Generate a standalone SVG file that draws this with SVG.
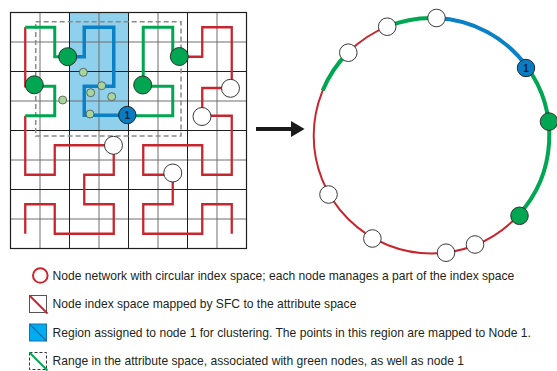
<svg xmlns="http://www.w3.org/2000/svg" width="557" height="371" viewBox="0 0 557 371">
<style>
.minor{stroke:#6e6e6e;stroke-width:1;fill:none}
.major{stroke:#1e1e1e;stroke-width:1;fill:none}
.red{stroke:#c8262f;stroke-width:2.3;fill:none;stroke-linejoin:miter}
.grn{stroke:#00a651;stroke-width:3;fill:none}
.blu{stroke:#0a80c6;stroke-width:3.5;fill:none}
.ringred{stroke:#c8262f;stroke-width:2;fill:none}
.ringgrn{stroke:#00a651;stroke-width:4;fill:none}
.ringblu{stroke:#0a80c6;stroke-width:4;fill:none}
.nw{fill:#ffffff;stroke:#222;stroke-width:0.9}
.ng{fill:#00a651;stroke:#222;stroke-width:0.9}
.nb{fill:#0a7cc1;stroke:#1a1a1a;stroke-width:0.9}
.pt{fill:#a6d69e;stroke:#4d4d4d;stroke-width:0.8}
.lbl{font-family:"Liberation Sans",Arial,sans-serif;font-size:12.1px;fill:#231f20}
.one{font-family:"Liberation Sans",Arial,sans-serif;font-size:10px;font-weight:bold;fill:#14243a;text-anchor:middle}
</style>
<defs>
<marker id="ah" markerWidth="4" markerHeight="4" refX="0" refY="2" orient="auto" markerUnits="strokeWidth">
<path d="M0,0 L3.4,2 L0,4 Z" fill="#1a1a1a"/>
</marker>
</defs>
<rect width="557" height="371" fill="#ffffff"/>

<g id="attribute-space">
<rect id="region-node1" x="69.5" y="12.5" width="59" height="118" fill="#8fd0ec"/>
<g id="grid">
<path class="minor" d="M40,12.5V248.5M99,12.5V248.5M158,12.5V248.5M217,12.5V248.5M10.5,42H246.5M10.5,101H246.5M10.5,160H246.5M10.5,219H246.5"/>
<path class="major" d="M69.5,12.5V248.5M128.5,12.5V248.5M187.5,12.5V248.5M10.5,71.5H246.5M10.5,130.5H246.5M10.5,189.5H246.5"/>
<rect x="10.5" y="12.5" width="236" height="236" fill="none" stroke="#1e1e1e" stroke-width="1.2"/>
</g>
<rect id="range" x="35.7" y="21.7" width="145.3" height="114.3" fill="none" stroke="#8a8a8a" stroke-width="1.5" stroke-dasharray="5,3"/>
</g>

<g id="connectors">
<path class="red" d="M25.25,233.75V204.25H54.75V233.75H113.75V204.25H84.25V174.75H113.75V145.25H54.75V174.75H25.25V115.75"/>
<path class="grn" d="M25.25,115.75H54.75V86.25H34"/>
<path class="red" d="M34,86.25H25.25V27.25"/>
<path class="grn" d="M25.25,27.25H54.75V56.75H67.7"/>
<path class="blu" d="M67.7,56.75H84.25V27.25H113.75V86.25H84.25V115.25H127.5"/>
<path class="grn" d="M127.5,115.75H172.75V86.25H143.25"/>
<path class="grn" d="M143.25,86.25V27.25H172.75V56.75H179.3"/>
<path class="red" d="M179.3,56.75H202.25V27.25H231.75V88H202.25V115.75H231.75V174.75H202.25V145.25H143.25V174.75H172.75V204.25H143.25V233.75H202.25V204.25H231.75V233.75"/>
<line x1="256" y1="129" x2="291" y2="129" stroke="#1a1a1a" stroke-width="4" marker-end="url(#ah)"/>
<circle class="ringred" cx="431.5" cy="135.7" r="117.8"/>
<path class="ringgrn" d="M322.7,90.4A117.8,117.8 0 0 1 348.1,52.5"/>
<path class="ringgrn" d="M387,26.6A117.8,117.8 0 0 1 436.2,18"/>
<path class="ringblu" d="M436.2,18A117.8,117.8 0 0 1 527.05,66.8"/>
<path class="ringgrn" d="M527.05,66.8A117.8,117.8 0 0 1 518.6,215"/>
</g>

<g id="points">
<circle class="pt" cx="83.3" cy="72.3" r="4"/>
<circle class="pt" cx="62.7" cy="100" r="4"/>
<circle class="pt" cx="101.7" cy="85.7" r="4"/>
<circle class="pt" cx="90.7" cy="92.7" r="4"/>
<circle class="pt" cx="111.7" cy="96.7" r="4"/>
<circle class="pt" cx="90" cy="114" r="4"/>
</g>

<g id="grid-node-g1"><circle class="ng" cx="34.3" cy="84.8" r="9"/></g>
<g id="grid-node-g2"><circle class="ng" cx="67.7" cy="56.7" r="9"/></g>
<g id="grid-node-g3"><circle class="ng" cx="142.7" cy="85" r="9"/></g>
<g id="grid-node-g4"><circle class="ng" cx="179.3" cy="56.5" r="9"/></g>
<g id="grid-node-1"><circle class="nb" cx="127.3" cy="115" r="8.7"/><text class="one" x="127.3" y="118.6">1</text></g>
<g id="grid-node-w1"><circle class="nw" cx="230.5" cy="88.3" r="9"/></g>
<g id="grid-node-w2"><circle class="nw" cx="202" cy="116.5" r="9"/></g>
<g id="grid-node-w3"><circle class="nw" cx="113.5" cy="145.3" r="9"/></g>
<g id="grid-node-w4"><circle class="nw" cx="172.75" cy="173" r="9"/></g>

<g id="ring-node-top"><circle class="nw" cx="436.5" cy="18" r="8.8"/></g>
<g id="ring-node-a"><circle class="nw" cx="387.2" cy="26.7" r="8.8"/></g>
<g id="ring-node-b"><circle class="nw" cx="348.3" cy="52.7" r="8.8"/></g>
<g id="ring-node-1"><circle class="nb" cx="526" cy="68" r="8.7"/><text class="one" x="526" y="71.6">1</text></g>
<g id="ring-node-g1"><circle class="ng" cx="549" cy="121.6" r="8.8"/></g>
<g id="ring-node-g2"><circle class="ng" cx="519.5" cy="215.8" r="8.8"/></g>
<g id="ring-node-c"><circle class="nw" cx="475" cy="244.5" r="8.8"/></g>
<g id="ring-node-d"><circle class="nw" cx="446" cy="252.7" r="8.8"/></g>
<g id="ring-node-e"><circle class="nw" cx="372.4" cy="238.5" r="8.8"/></g>
<g id="ring-node-f"><circle class="nw" cx="328.5" cy="194.5" r="8.8"/></g>

<g id="legend">
<circle cx="40.3" cy="275.5" r="7.3" fill="none" stroke="#c8262f" stroke-width="2"/>
<rect x="29.5" y="295.5" width="17" height="17" fill="none" stroke="#555" stroke-width="1"/>
<line x1="29.5" y1="295.5" x2="47.5" y2="313.5" stroke="#c8262f" stroke-width="2"/>
<rect x="29.5" y="324" width="17" height="17" fill="#00aeef" stroke="#1a6fae" stroke-width="1"/>
<line x1="29.5" y1="324" x2="46.5" y2="341" stroke="#1470b4" stroke-width="1.5"/>
<rect x="29.5" y="352.5" width="17" height="17" fill="none" stroke="#333" stroke-width="1" stroke-dasharray="3,2"/>
<line x1="29.5" y1="352.5" x2="47.5" y2="370.5" stroke="#00a651" stroke-width="2"/>
<text class="lbl" x="52.5" y="279.5">Node network with circular index space; each node manages a part of the index space</text>
<text class="lbl" x="52.5" y="308">Node index space mapped by SFC to the attribute space</text>
<text class="lbl" x="52.5" y="336.5">Region assigned to node 1 for clustering. The points in this region are mapped to Node 1.</text>
<text class="lbl" x="52.5" y="365">Range in the attribute space, associated with green nodes, as well as node 1</text>
</g>
</svg>
